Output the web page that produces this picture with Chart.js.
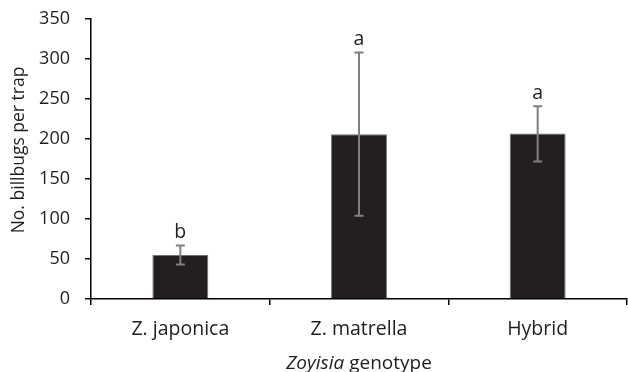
<!DOCTYPE html>
<html>
<head>
<meta charset="utf-8">
<script src="https://cdn.jsdelivr.net/npm/chart.js@4"></script>
<style>
  html, body { margin: 0; padding: 0; background: #fff; }
  #wrap { width: 628px; height: 372px; position: relative; }
</style>
</head>
<body>
<div id="wrap"><canvas id="c" width="628" height="372"></canvas></div>
<script>
const categories = ['Z. japonica', 'Z. matrella', 'Hybrid'];
const means = [55, 206, 207];
const errLow = [43, 104, 172];
const errHigh = [67, 308, 241];
const letters = ['b', 'a', 'a'];
const yMin = 0, yMax = 350, yStep = 50;
const yTitle = 'No. billbugs per trap';
const xTitleItalic = 'Zoyisia';
const xTitleRest = ' genotype';

const FONT = '"Open Sans", sans-serif';
const TEXT = '#1e1e1e';

const overlay = {
  id: 'overlay',
  afterDatasetsDraw(chart) {
    const ctx = chart.ctx;
    const meta = chart.getDatasetMeta(0);
    const ys = chart.scales.y;
    ctx.save();
    meta.data.forEach((bar, i) => {
      const x = bar.x;
      const yH = ys.getPixelForValue(errHigh[i]);
      const yL = ys.getPixelForValue(errLow[i]);
      ctx.strokeStyle = '#7f7f7f';
      ctx.lineWidth = 2;
      ctx.beginPath();
      ctx.moveTo(x, yH); ctx.lineTo(x, yL);
      ctx.moveTo(x - 4.5, yH); ctx.lineTo(x + 4.5, yH);
      ctx.moveTo(x - 4.5, yL); ctx.lineTo(x + 4.5, yL);
      ctx.stroke();
      ctx.fillStyle = TEXT;
      ctx.font = '19.5px ' + FONT;
      ctx.textAlign = 'center';
      ctx.textBaseline = 'alphabetic';
      ctx.fillText(letters[i], x, yH - 7.5);
    });
    ctx.restore();
  },
  afterDraw(chart) {
    const ctx = chart.ctx;
    const ca = chart.chartArea;
    ctx.save();
    ctx.fillStyle = TEXT;
    // y title
    ctx.font = '17.5px ' + FONT;
    ctx.translate(19, 150);
    ctx.rotate(-Math.PI / 2);
    ctx.textAlign = 'center';
    ctx.textBaseline = 'middle';
    ctx.fillText(yTitle, 0, 0);
    ctx.restore();
    // x title
    ctx.save();
    ctx.fillStyle = TEXT;
    ctx.textBaseline = 'alphabetic';
    ctx.textAlign = 'left';
    ctx.font = 'italic 19px ' + FONT;
    const w1 = ctx.measureText(xTitleItalic).width;
    ctx.font = '19px ' + FONT;
    const w2 = ctx.measureText(xTitleRest).width;
    const cx = (ca.left + ca.right) / 2;
    let sx = cx - (w1 + w2) / 2;
    ctx.font = 'italic 19px ' + FONT;
    ctx.fillText(xTitleItalic, sx, 369);
    ctx.font = '19px ' + FONT;
    ctx.fillText(xTitleRest, sx + w1, 369);
    ctx.restore();
  }
};

new Chart(document.getElementById('c'), {
  type: 'bar',
  data: {
    labels: categories,
    datasets: [{
      data: means,
      backgroundColor: '#231f20',
      borderColor: '#6f6f6f',
      borderWidth: 1,
      barPercentage: 0.313,
      categoryPercentage: 1.0
    }]
  },
  options: {
    responsive: false,
    animation: false,
    devicePixelRatio: 1,
    layout: { padding: { top: 19, right: 1, left: 0, bottom: 0 } },
    plugins: { legend: { display: false }, tooltip: { enabled: false } },
    scales: {
      x: {
        afterFit(scale) { scale.height = 73; scale.paddingLeft = 0; scale.paddingRight = 0; },
        grid: { display: true, drawOnChartArea: false, drawTicks: true, tickLength: 6, color: '#000', lineWidth: 1.5, offset: true },
        border: { display: true, color: '#000', width: 1.5 },
        ticks: { color: TEXT, font: { family: FONT, size: 19.5 }, padding: 13, maxRotation: 0 }
      },
      y: {
        min: yMin, max: yMax,
        afterFit(scale) { scale.width = 91; scale.paddingTop = 0; scale.paddingBottom = 0; },
        grid: { display: true, drawOnChartArea: false, drawTicks: true, tickLength: 6, color: '#000', lineWidth: 1.5 },
        border: { display: true, color: '#000', width: 1.5 },
        ticks: { stepSize: yStep, color: TEXT, font: { family: FONT, size: 18 }, padding: 15 }
      }
    }
  },
  plugins: [overlay]
});
</script>
</body>
</html>
